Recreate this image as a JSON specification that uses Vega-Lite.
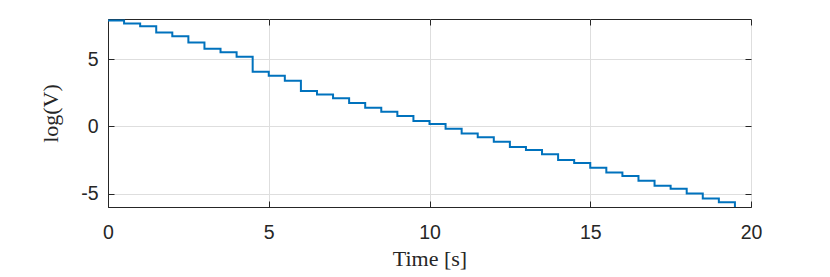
{
  "$schema": "https://vega.github.io/schema/vega-lite/v6.json",
  "autosize": "none",
  "width": 643,
  "height": 188,
  "padding": {"left": 108, "top": 19, "right": 79, "bottom": 70},
  "background": "white",
  "config": {
    "view": {"stroke": "#262626", "strokeWidth": 1},
    "axis": {
      "labelFont": "Liberation Sans, Arial, Helvetica, sans-serif",
      "labelFontSize": 19.5,
      "labelColor": "#262626",
      "labelFlush": false,
      "labelOverlap": false,
      "labelExpr": "'' + datum.value",
      "titleFont": "Liberation Serif, Times New Roman, serif",
      "titleFontSize": 22,
      "titleFontWeight": "normal",
      "titleColor": "#262626",
      "domainColor": "#262626",
      "tickColor": "#262626",
      "gridColor": "#dedede",
      "gridOpacity": 1
    }
  },
  "data": {
    "values": [
      {"t": 0, "v": 7.88}, {"t": 0.5, "v": 7.67}, {"t": 1, "v": 7.46}, {"t": 1.5, "v": 6.99},
      {"t": 2, "v": 6.71}, {"t": 2.5, "v": 6.25}, {"t": 3, "v": 5.78}, {"t": 3.5, "v": 5.52},
      {"t": 4, "v": 5.18}, {"t": 4.5, "v": 4.08}, {"t": 5, "v": 3.77}, {"t": 5.5, "v": 3.4},
      {"t": 6, "v": 2.63}, {"t": 6.5, "v": 2.37}, {"t": 7, "v": 2.09}, {"t": 7.5, "v": 1.74},
      {"t": 8, "v": 1.39}, {"t": 8.5, "v": 1.1}, {"t": 9, "v": 0.77}, {"t": 9.5, "v": 0.4},
      {"t": 10, "v": 0.18}, {"t": 10.5, "v": -0.17}, {"t": 11, "v": -0.52}, {"t": 11.5, "v": -0.8},
      {"t": 12, "v": -1.14}, {"t": 12.5, "v": -1.53}, {"t": 13, "v": -1.76}, {"t": 13.5, "v": -2.08},
      {"t": 14, "v": -2.5}, {"t": 14.5, "v": -2.73}, {"t": 15, "v": -3.07}, {"t": 15.5, "v": -3.43},
      {"t": 16, "v": -3.7}, {"t": 16.5, "v": -4.05}, {"t": 17, "v": -4.42}, {"t": 17.5, "v": -4.65},
      {"t": 18, "v": -5.0}, {"t": 18.5, "v": -5.37}, {"t": 19, "v": -5.65}, {"t": 19.5, "v": -6.3}
    ]
  },
  "layer": [
    {
      "mark": {"type": "line", "opacity": 0, "clip": true},
      "encoding": {
        "x": {"field": "t", "type": "quantitative", "scale": {"domain": [0, 20], "nice": false},
          "axis": {"orient": "top", "labels": false, "title": null, "values": [0, 5, 10, 15, 20], "tickSize": -6, "grid": false, "domain": false}},
        "y": {"field": "v", "type": "quantitative", "scale": {"domain": [-6, 8], "nice": false, "zero": false},
          "axis": {"orient": "right", "labels": false, "title": null, "values": [-5, 0, 5], "tickSize": -6, "grid": false, "domain": false}}
      }
    },
    {
      "mark": {"type": "line", "interpolate": "step-after", "color": "#0072BD", "strokeWidth": 2, "clip": true},
      "encoding": {
        "x": {"field": "t", "type": "quantitative", "scale": {"domain": [0, 20], "nice": false},
          "axis": {"orient": "bottom", "title": "Time [s]", "values": [0, 5, 10, 15, 20], "tickSize": -6, "labelPadding": 22, "titlePadding": 7, "grid": true}},
        "y": {"field": "v", "type": "quantitative", "scale": {"domain": [-6, 8], "nice": false, "zero": false},
          "axis": {"orient": "left", "title": "log(V)", "values": [-5, 0, 5], "tickSize": -6, "labelPadding": 16, "titlePadding": 18, "grid": true}}
      }
    }
  ],
  "resolve": {"axis": {"x": "independent", "y": "independent"}}
}
